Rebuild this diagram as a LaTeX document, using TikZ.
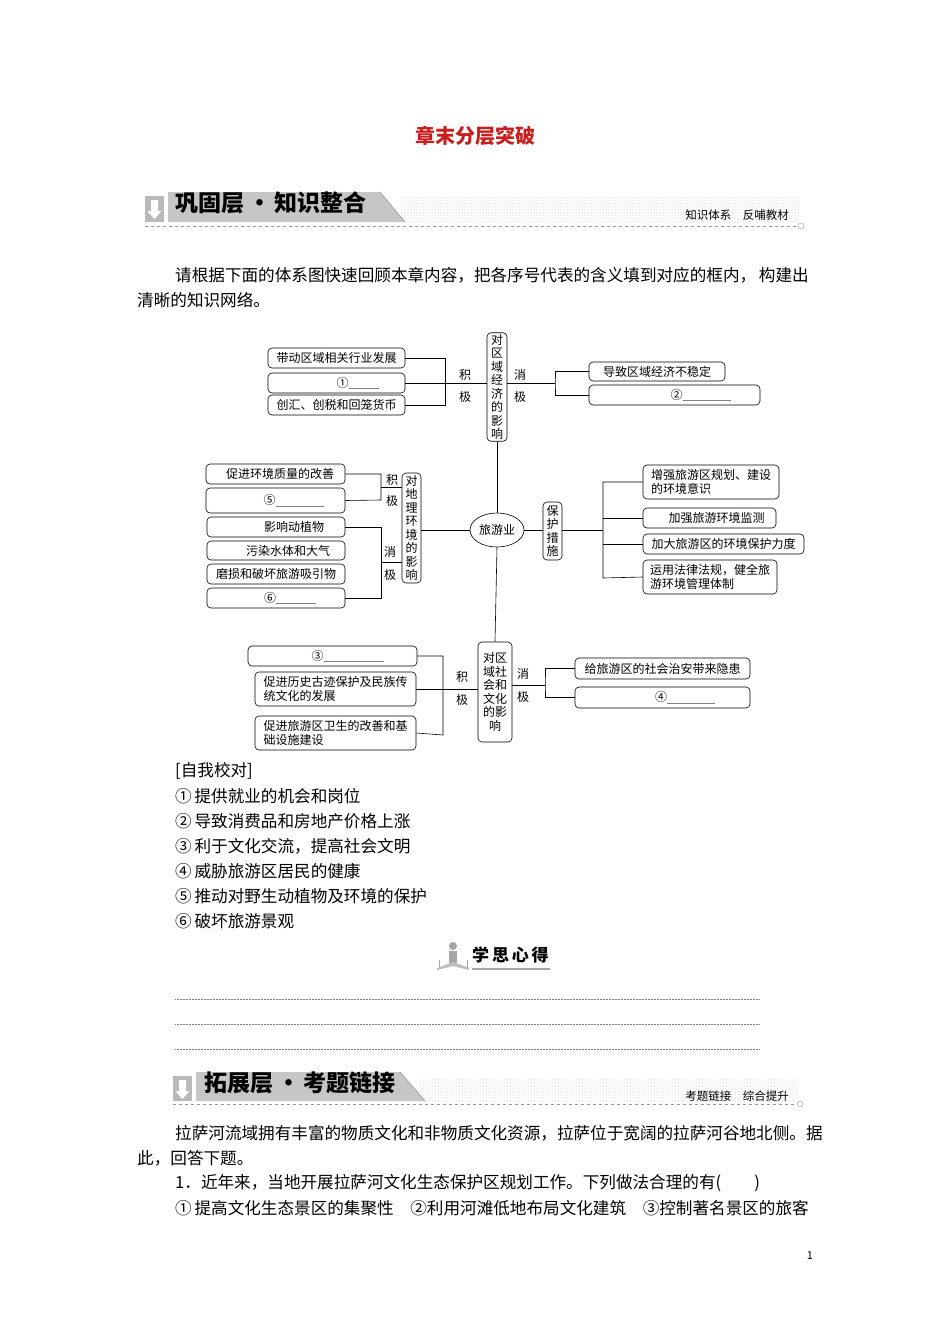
\documentclass[tikz,border=0pt]{standalone}
\usepackage{fontspec}
\setmainfont{Noto Sans CJK SC}
\usetikzlibrary{patterns,shapes.geometric}
\newcommand\blank[1]{\textcolor{gray}{\rule[-2pt]{#1pt}{0.8pt}}}
\newcommand\bx[6]{\pgfmathsetmacro\cx{(#2+#4)/2}\pgfmathsetmacro\cy{(#3+#5)/2}\pgfmathsetmacro\ww{#4-#2}\pgfmathsetmacro\hh{#5-#3}\node[bx,minimum width=\ww pt,minimum height=\hh pt] (#1) at (\cx,\cy) {#6};}
\tikzset{
 bx/.style={draw,rounded corners=4pt,inner sep=1pt,font=\fontsize{12}{13.5}\selectfont,align=left,line width=0.6pt},
 vb/.style={draw,rounded corners=4pt,inner sep=1.5pt,font=\fontsize{12}{13.5}\selectfont,align=center,line width=0.6pt},
 ln/.style={line width=0.6pt},
 lbl/.style={font=\fontsize{12}{13}\selectfont,inner sep=0pt},
 body/.style={font=\fontsize{16.6}{18}\selectfont,anchor=west,inner sep=0pt},
 ban/.style={font=\fontsize{23}{24}\selectfont\bfseries,anchor=west,inner sep=0pt},
 bsm/.style={font=\fontsize{11.5}{12}\selectfont,inner sep=0pt}
}
\begin{document}
\begin{tikzpicture}[x=1pt,y=-1pt]
\useasboundingbox (0,0) rectangle (950,1344);
\fill[white] (0,0) rectangle (950,1344);
% title
\node[font=\fontsize{20}{22}\selectfont\bfseries,text={rgb,255:red,200;green,30;blue,30}] (title) at (475,136) {章末分层突破};
% banner 1
\fill[pattern=dots,pattern color=gray!60] (400,196) rectangle (800,222);
\fill[gray!45] (168,192)--(380,192)--(405,222)--(168,222)--cycle;
\draw[gray!70,line width=0.8pt] (380,192)--(405,222);
\fill[gray!55] (145,196) rectangle (164,222);
\fill[white] (151,200) rectangle (158,211) (147.5,211)--(161.5,211)--(154.5,219)--cycle;
\node[ban] (b1) at (175,203) {巩固层\,·\,知识整合};
\node[bsm] (b1r) at (737,215) {知识体系\quad 反哺教材};
\draw[dashed,gray!80,line width=0.6pt] (145,226)--(797,226);
\draw[gray!80] (801,226) circle (3);
% paragraph
\node[body] (p1) at (175,275) {请根据下面的体系图快速回顾本章内容，把各序号代表的含义填到对应的框内，\,构建出};
\node[body] (p2) at (137,300) {清晰的知识网络。};
% ===== diagram =====
\node[vb,minimum width=20pt,minimum height=106pt,text width=12pt] (eco) at (497,387) {对\\区\\域\\经\\济\\的\\影\\响};
\bx{a1}{268}{348}{405}{368}{带动区域相关行业发展}
\bx{a2}{268}{373}{405}{393}{\hspace{42pt}①\blank{30}}
\bx{a3}{268}{395}{405}{415}{创汇、创税和回笼货币}
\coordinate (ja) at (445,383);
\draw[ln] (a1.east)-|(445,405)--(a3.east);
\draw[ln] (a2.east)--(eco.west|-ja);
\node[lbl] (ja1) at (465,375) {积};
\node[lbl] (ja2) at (465,397) {极};
\node[lbl] (xa1) at (520,375) {消};
\node[lbl] (xa2) at (520,397) {极};
\bx{a4}{589}{362}{725}{381}{导致区域经济不稳定}
\bx{a5}{589}{385}{760}{405}{\hspace{52pt}②\blank{48}}
\coordinate (jb) at (555,383);
\draw[ln] (eco.east|-jb)--(jb);
\draw[ln] (a4.west)-|(jb) |-(a5.west);
% center
\node[ellipse,draw,line width=0.6pt,minimum width=54pt,minimum height=34pt,inner sep=0pt,font=\fontsize{12}{13}\selectfont] (ly) at (497,530) {旅游业};
\draw[ln] (eco.south)--(ly.north);
% env
\node[vb,minimum width=19pt,minimum height=110pt,text width=12pt] (env) at (411.5,528) {对\\地\\理\\环\\境\\的\\影\\响};
\draw[ln] (env.east|-ly)--(ly.west);
\bx{e1}{206}{464}{345}{484}{\hspace{9pt}促进环境质量的改善}
\bx{e2}{206}{488}{345}{513}{\hspace{36pt}⑤\blank{48}}
\bx{e3}{207}{517}{345}{537}{\hspace{36pt}影响动植物}
\bx{e4}{207}{541}{345}{560}{\hspace{24pt}污染水体和大气}
\bx{e5}{207}{564}{345}{584}{磨损和破坏旅游吸引物}
\bx{e6}{207}{588}{345}{608}{\hspace{28pt}⑥\blank{40}}
\coordinate (je1) at (381,487);
\coordinate (je2) at (381,562);
\draw[ln] (e1.east)-|(381,500)--(e2.east);
\draw[ln] (je1)--(env.west|-je1);
\draw[ln] (e3.east)-|(381,598)--(e6.east);
\draw[ln] (je2)--(env.west|-je2);
\node[lbl] (je1a) at (392,480) {积};
\node[lbl] (je1b) at (392,501) {极};
\node[lbl] (je2a) at (390,552) {消};
\node[lbl] (je2b) at (390,575) {极};
% protection
\node[vb,minimum width=19pt,minimum height=58pt,text width=12pt] (pro) at (552.5,531) {保\\护\\措\\施};
\draw[ln] (ly.east)--(pro.west|-ly);
\bx{r1}{643}{465}{779}{499}{增强旅游区规划、建设\\的环境意识}
\bx{r2}{643}{508}{776}{528}{\hspace{14pt}加强旅游环境监测}
\bx{r3}{643}{534}{804}{554}{加大旅游区的环境保护力度}
\bx{r4}{643}{560}{777}{594}{运用法律法规，健全旅\\游环境管理体制}
\coordinate (jp) at (603,530);
\draw[ln] (pro.east|-jp)--(jp);
\draw[ln] (r1.west)-|(603,578)--(r4.west);
\draw[ln] (603,518)--(r2.west);
\draw[ln] (603,544)--(r3.west);
% social
\node[vb,minimum width=34pt,minimum height=100pt,text width=26pt] (soc) at (495,692) {对区\\域社\\会和\\文化\\的影\\响};
\draw[ln] (ly.south)--(soc.north);
\bx{s1}{248}{646}{417}{666}{\hspace{30pt}③\blank{60}}
\bx{s2}{255}{672}{416}{706}{促进历史古迹保护及民族传\\统文化的发展}
\bx{s3}{255}{716}{416}{750}{促进旅游区卫生的改善和基\\础设施建设}
\coordinate (js) at (443,689);
\draw[ln] (s1.east)-|(443,735)--(s3.east);
\draw[ln] (s2.east)--(soc.west|-js);
\node[lbl] (js1) at (462,677) {积};
\node[lbl] (js2) at (462,700) {极};
\node[lbl] (xs1) at (523,674) {消};
\node[lbl] (xs2) at (523,697) {极};
\bx{s4}{575}{658}{750}{679}{给旅游区的社会治安带来隐患}
\bx{s5}{575}{687}{750}{708}{\hspace{45pt}④\blank{48}}
\coordinate (jt) at (545,685);
\draw[ln] (soc.east|-jt)--(jt);
\draw[ln] (s4.west)-|(jt)|-(s5.west);
% self check
\node[body] (k0) at (175,771) {[自我校对]};
\node[body] (k1) at (175,796) {①\,提供就业的机会和岗位};
\node[body] (k2) at (175,821) {②\,导致消费品和房地产价格上涨};
\node[body] (k3) at (175,846) {③\,利于文化交流，提高社会文明};
\node[body] (k4) at (175,871) {④\,威胁旅游区居民的健康};
\node[body] (k5) at (175,896) {⑤\,推动对野生动植物及环境的保护};
\node[body] (k6) at (175,921) {⑥\,破坏旅游景观};
% 学思心得
\fill[gray!70] (453,946) circle (4);
\fill[gray!70] (449,951) rectangle (457,963);
\fill[gray!50] (437,968)--(453,962)--(469,968)--(469,970)--(453,966)--(437,970)--cycle;
\draw[gray!70,line width=1pt] (439,960)--(439,968) (467,960)--(467,968);
\node[font=\fontsize{17}{18}\selectfont\bfseries,anchor=west,inner sep=0pt] (xs) at (472,955) {学\,思\,心\,得};
\draw[gray!70,line width=1.2pt] (472,969)--(550,969);
\draw[densely dotted,gray,line width=0.5pt] (175,999)--(760,999) (175,1024)--(760,1024) (175,1049)--(760,1049);
% banner 2
\fill[pattern=dots,pattern color=gray!60] (420,1078) rectangle (798,1101);
\fill[gray!45] (196,1072)--(400,1072)--(425,1101)--(196,1101)--cycle;
\draw[gray!70,line width=0.8pt] (400,1072)--(425,1101);
\fill[gray!55] (173,1076) rectangle (192,1101);
\fill[white] (179,1080) rectangle (186,1091) (175.5,1091)--(189.5,1091)--(182.5,1099)--cycle;
\node[ban] (b2) at (204,1083) {拓展层\,·\,考题链接};
\node[bsm] (b2r) at (737,1096) {考题链接\quad 综合提升};
\draw[dashed,gray!80,line width=0.6pt] (173,1104)--(796,1104);
\draw[gray!80] (800,1104) circle (3);
% question text
\node[body] (q1) at (175,1133) {拉萨河流域拥有丰富的物质文化和非物质文化资源，拉萨位于宽阔的拉萨河谷地北侧。据};
\node[body] (q2) at (137,1158) {此，回答下题。};
\node[body] (q3) at (175,1183) {1．近年来，当地开展拉萨河文化生态保护区规划工作。下列做法合理的有(\qquad)};
\node[body] (q4) at (175,1208) {①\,提高文化生态景区的集聚性\quad ②利用河滩低地布局文化建筑\quad ③控制著名景区的旅客};
\node[font=\fontsize{11}{12}\selectfont] (pg) at (810,1256) {1};
\end{tikzpicture}
\end{document}
